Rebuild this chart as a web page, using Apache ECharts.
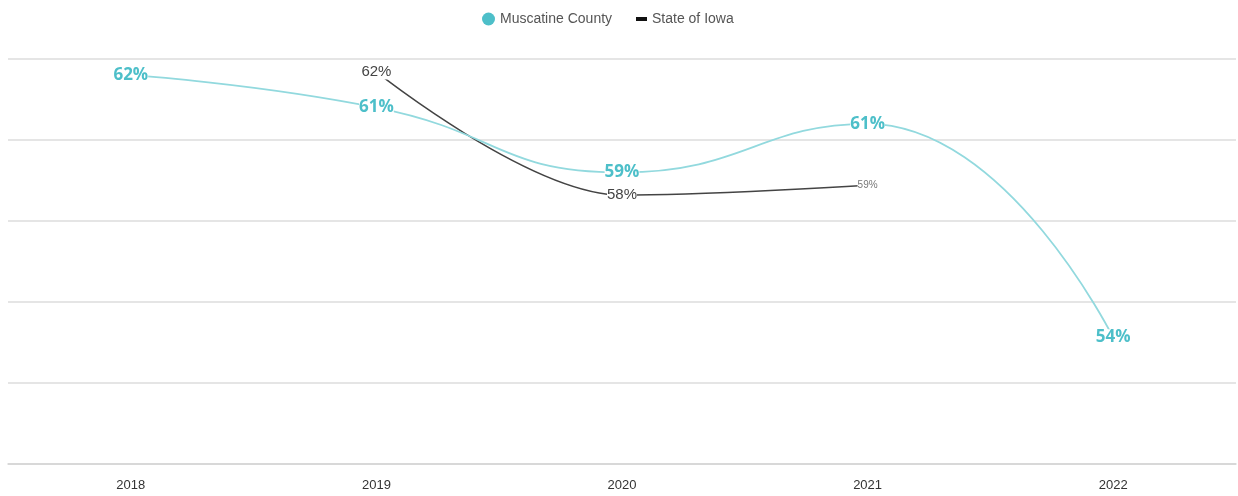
<!DOCTYPE html>
<html>
<head>
<meta charset="utf-8">
<script src="https://cdn.jsdelivr.net/npm/echarts@6/dist/echarts.min.js"></script>
<style>
  html, body { margin: 0; padding: 0; background: #fff; }
  #main { width: 1238px; height: 496px; }
</style>
</head>
<body>
<div id="main"></div>
<script>
// data (percent)
const years = ['2018', '2019', '2020', '2021', '2022'];
const muscatine = [62.0, 61.0, 59.0, 60.5, 53.9];
const iowa = [null, 62.1, 58.3, 58.6, null];

const FONT = '"Liberation Sans", Arial, sans-serif';
const TEAL = '#4dbfc9';
const TEAL_LINE = '#92d9de';

const chart = echarts.init(document.getElementById('main'));

// two legends so each icon can have its own size (dot + short dash)
const legendText = { fontFamily: FONT, fontSize: 14, color: '#555' };

const option = {
  animation: false,
  legend: [
    {
      top: 7,
      left: 477,
      itemWidth: 13,
      itemHeight: 13,
      itemGap: 8,
      textStyle: legendText,
      data: [{ name: 'Muscatine County', icon: 'circle', itemStyle: { color: TEAL } }]
    },
    {
      top: 7,
      left: 631,
      itemWidth: 11,
      itemHeight: 4,
      textStyle: legendText,
      data: [{ name: 'State of Iowa', icon: 'rect', itemStyle: { color: '#111' } }]
    }
  ],
  grid: { left: 8, right: 2, top: 59, bottom: 32 },
  xAxis: {
    type: 'category',
    data: years,
    boundaryGap: true,
    axisTick: { show: false },
    axisLine: { lineStyle: { color: '#d4d4d4', width: 1.5 } },
    axisLabel: { fontFamily: FONT, fontSize: 13, color: '#333', margin: 15 }
  },
  yAxis: {
    type: 'value',
    min: 50,
    max: 62.5,
    interval: 2.5,
    axisLabel: { show: false },
    axisLine: { show: false },
    axisTick: { show: false },
    splitLine: { lineStyle: { color: '#dcdcdc', width: 1.5 } }
  },
  series: [
    {
      name: 'State of Iowa',
      type: 'line',
      smooth: 0.35,
      connectNulls: false,
      symbol: 'circle',
      symbolSize: 0.1,
      itemStyle: { color: '#111' },
      lineStyle: { color: '#444', width: 1.5 },
      z: 2,
      label: {
        show: true,
        position: 'inside',
        backgroundColor: '#fff',
        fontFamily: FONT,
        fontSize: 15,
        color: '#444',
        formatter: p => Math.round(p.value) + '%'
      },
      labelLayout: { hideOverlap: false },
      data: iowa.map((v, i) => i === 3
        ? { value: v, label: { fontSize: 10, color: '#777' } }
        : (i === 1 ? { value: v, label: { offset: [-4, -3] } } : v))
    },
    {
      name: 'Muscatine County',
      type: 'line',
      data: muscatine,
      smooth: 0.5,
      symbol: 'circle',
      symbolSize: 0.1,
      itemStyle: { color: TEAL },
      lineStyle: { color: TEAL_LINE, width: 1.8 },
      z: 3,
      label: {
        show: true,
        position: 'inside',
        backgroundColor: '#fff',
        fontFamily: '"Open Sans", "DejaVu Sans", sans-serif',
        fontWeight: 'bold',
        fontSize: 17,
        color: TEAL,
        formatter: p => Math.round(p.value) + '%'
      }
    }
  ]
};

chart.setOption(option);
</script>
</body>
</html>
